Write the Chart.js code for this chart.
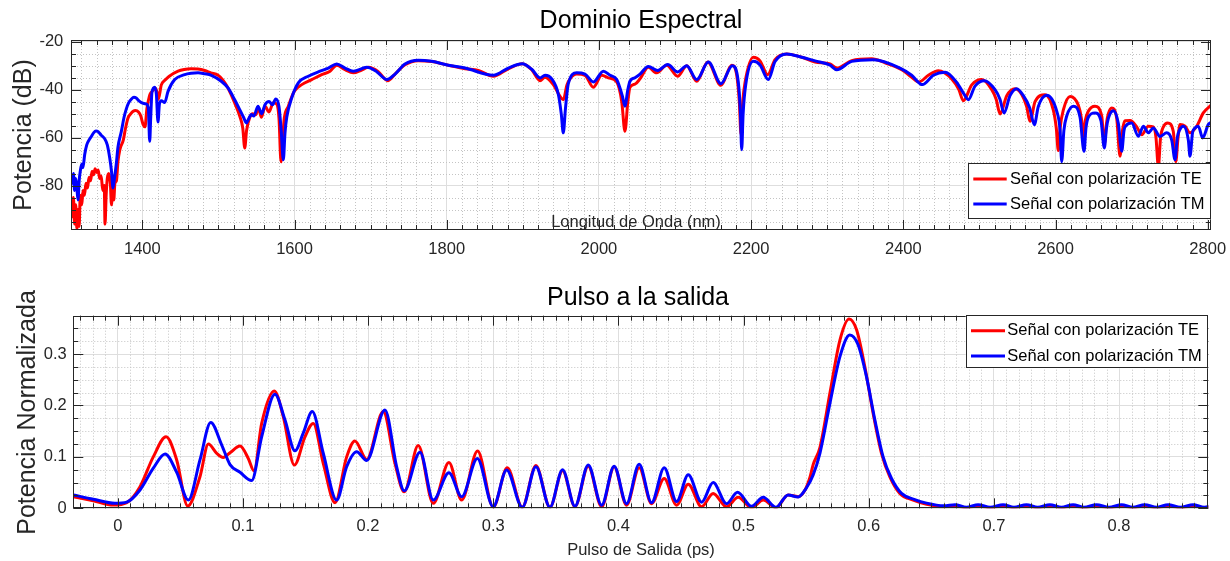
<!DOCTYPE html>
<html lang="es">
<head>
<meta charset="utf-8">
<title>Dominio Espectral / Pulso a la salida</title>
<script src="https://cdn.jsdelivr.net/npm/chart.js@4/dist/chart.umd.min.js"></script>
<style>
  html, body { margin: 0; padding: 0; background: #fff; }
  #wrap { position: relative; width: 1230px; height: 561px; overflow: hidden; }
  canvas { position: absolute; left: 0; }
  #spectrum { top: 0; }
  #pulse { top: 275px; }
</style>
</head>
<body>
<div id="wrap">
  <canvas id="spectrum" width="1230" height="275"></canvas>
  <canvas id="pulse" width="1230" height="286"></canvas>
</div>
<script>
// --- Dominio Espectral (nm, dB) ---
const wavelengthTE = [
  1306.3,1308,1309.5,1311,1312.5,1314,1315.5,1317,1318.5,1320.5,
  1322,1324,1326,1328,1330,1332,1334,1336,1338,1340,
  1342,1344,1346,1348,1350,1351,1352.5,1354,1356,1358,
  1359.5,1361,1362.5,1364,1366,1368,1370.5,1375,1378,1381,
  1385,1388,1391,1395,1398,1401,1403.5,1406,1408,1410,
  1412,1415,1418,1421,1425,1430,1435,1447,1455,1464,
  1473,1482,1490,1499.5,1506,1512.6,1521.4,1528,1532,1534.6,
  1537,1541,1545,1549,1552.4,1556.6,1561.2,1566.5,1572.1,1576.6,
  1579.6,1582.3,1584.5,1586.6,1591.9,1599.7,1609.5,1622.6,1635.7,1646.7,
  1655.5,1666.4,1677.3,1688.3,1697,1710.1,1722.5,1732.1,1745.2,1762.7,
  1780.3,1802.1,1824,1841.5,1861.2,1880.9,1899.3,1911.7,1922.6,1929.2,
  1940.1,1948.9,1953.2,1958,1962,1970.8,1981.7,1992.6,2003.7,2012.4,
  2023.4,2030,2034.2,2038,2040.8,2047.4,2054,2064.9,2075.9,2089.1,
  2103.5,2115.4,2128.5,2143,2160.4,2174.5,2181.1,2184.5,2186.7,2189,
  2192,2202.9,2211.7,2221.8,2231.4,2246.8,2266.5,2284,2303.7,2312.5,
  2332.2,2358.5,2376,2397.9,2411,2420.6,2432.9,2446,2463.6,2473,
  2478.8,2489.9,2503,2516.2,2522,2527.1,2535.9,2546.8,2555.6,2562,
  2566.5,2573.1,2586.2,2597.1,2601,2603.7,2606,2610.2,2619.1,2630,
  2634,2636.5,2639,2643.1,2651.9,2660.7,2664.1,2667,2669.4,2673.8,
  2680.4,2684.8,2688,2691.3,2697.9,2706.7,2713.3,2722,2728.5,2732,
  2735.1,2738,2741.7,2747.4,2754.8,2758,2761,2763.6,2770.2,2776.7,
  2785.5,2794.2,2805.2
];
const powerTE = [
  -87,-93,-85,-96,-88,-98,-90,-97,-84,-88,
  -82,-84,-79,-81,-76.5,-78,-74,-75.5,-73,-74.5,
  -73.5,-77,-76,-82,-80,-96,-84,-77,-75,-79,
  -88,-80,-86,-79,-78,-70,-65,-61,-56,-52,
  -50,-49,-48.7,-49.3,-51,-54.5,-55.5,-48,-44.5,-42,
  -41,-40,-39.5,-44,-38,-36,-34.5,-32.3,-31.6,-31.3,
  -31.4,-32,-33,-34,-36,-39.3,-45.5,-51,-56,-64.3,
  -57,-51.8,-50,-50.5,-47.6,-51.5,-46.9,-49.3,-45.5,-46,
  -52,-70.1,-60,-51.8,-46.9,-40.7,-37.9,-35.8,-33.75,-32.3,
  -29.8,-31.7,-33,-31.8,-30.7,-32.5,-36.25,-33.5,-29.6,-27.9,
  -28.3,-29.8,-31.25,-32,-34.4,-31.3,-29.2,-31.7,-36.25,-34.8,
  -37.9,-42.8,-44.2,-38,-35.5,-33.5,-34,-39,-34,-35.1,
  -36.8,-45,-57.3,-45,-39,-37.7,-35.5,-30.7,-33,-29.8,
  -34.4,-30,-36.5,-28.5,-38.2,-29.8,-34,-45,-58.7,-45,
  -37,-26.5,-28,-33.75,-27.5,-25.1,-26.5,-28.5,-29.3,-31,
  -27.9,-27.1,-28.8,-31.7,-34.8,-36.8,-34,-32.1,-35.5,-40,
  -44.6,-38,-35.8,-40,-44,-50.1,-42.5,-39.6,-42,-47,
  -53.2,-45,-42.1,-48.5,-56,-65.4,-56,-48.5,-42.8,-46.5,
  -52,-60.1,-53,-49,-46.9,-51,-62.9,-54,-50,-47.6,
  -52,-67.75,-57,-53,-52.9,-55.5,-58.75,-55.25,-55.5,-60,
  -72,-60,-55.5,-53.9,-57.5,-70,-60,-54.5,-55.25,-58,
  -55.25,-49.7,-46.25
];
const wavelengthTM = [
  1306.3,1308,1309.5,1311,1312.5,1314,1315.5,1317,1318.5,1320.5,
  1322,1324.3,1327,1330,1333,1336,1339,1342,1346,1350.6,
  1354,1357.2,1359.5,1361.5,1363,1365.8,1368,1372.4,1376,1379,
  1382,1385.5,1389,1392,1396,1401,1405.3,1408,1409.7,1411,
  1412.7,1416.3,1418.5,1420.6,1422.5,1425,1429.4,1433.8,1442.6,1455.7,
  1464,1473.2,1482,1490.7,1503.8,1512.6,1521.4,1528,1533,1536.7,
  1540,1543.2,1546.5,1552,1556.9,1561.2,1566.5,1571,1575.3,1579.6,
  1582.5,1585.3,1587.5,1589.8,1596.3,1605,1618.1,1633.5,1644.4,1655.5,
  1666.4,1677.3,1694.9,1708,1721.2,1732.1,1745.2,1762.7,1780.3,1802.1,
  1824,1861.2,1880.9,1899.3,1911.7,1922.6,1929.2,1938,1946.7,1950.5,
  1953.2,1956,1959.8,1970.8,1981.7,1992.6,2005.8,2014.6,2023.4,2030.7,
  2034.2,2038,2040.8,2047.4,2054,2064.9,2077.3,2090.4,2103.5,2115.4,
  2128.5,2143.8,2160.4,2175.3,2183.2,2186,2187.6,2189.5,2192.9,2202.9,
  2211.7,2222.6,2231.4,2246.8,2266.5,2284,2303.7,2312.5,2332.2,2360.6,
  2395.7,2411,2425,2439.4,2454.8,2470.2,2480,2485.4,2494.2,2506.4,
  2520.5,2527,2532.3,2540.2,2549,2557.7,2566,2572.2,2577.4,2588.4,
  2601.6,2606,2608.1,2611,2614.7,2623.4,2632.2,2637.5,2640,2643.1,
  2651.9,2659.8,2664.1,2667,2669.4,2675.9,2682.5,2687,2690,2692.6,
  2700.1,2708.8,2715.4,2722,2728.5,2737.3,2746.1,2752.7,2757,2760,
  2763.6,2768,2774.5,2776.7,2780,2783.3,2787.6,2793.4,2800.8,2806.9
];
const powerTM = [
  -76,-79,-75,-82,-77,-81,-86,-78,-74,-71,
  -72.5,-67,-63,-61,-59.5,-58,-57.2,-57.5,-59,-60.5,
  -63,-68.5,-74,-81,-78,-71,-64,-57.5,-51.5,-48,
  -45.5,-44,-43.2,-43.5,-44.8,-45.7,-46,-48,-61.5,-52,
  -41,-39,-42,-53.5,-46,-44.6,-45.4,-40.7,-35.8,-33.75,
  -33.2,-33,-33.4,-34,-36.5,-39.3,-44.2,-48.3,-51.5,-53.9,
  -52,-50.4,-51,-46.9,-50,-46.25,-44.9,-46.3,-43.9,-47,
  -57,-69.2,-58,-51.5,-43.5,-37.2,-34.4,-32.3,-31,-29.3,
  -31,-32.3,-30.7,-32.5,-35.8,-33.5,-29.3,-27.7,-28.2,-29.8,
  -31,-34,-31,-29.2,-31.5,-35.1,-34,-35.5,-42,-50,
  -58,-48,-37.5,-33,-33.5,-36.8,-32.3,-34,-35.8,-42.5,
  -46.9,-40,-36.5,-35,-33.5,-30.3,-32,-29.5,-32.6,-30,
  -35.8,-28.5,-37.5,-30,-37,-50,-65,-50,-38,-28.2,
  -29.7,-35.8,-28.3,-25.1,-26.5,-28,-29.8,-31.7,-28.2,-27.5,
  -31,-34,-37.9,-34,-32.75,-37,-42,-44.2,-38.5,-36.25,
  -40,-44,-49.7,-42.5,-39.6,-42.5,-47.5,-54.6,-47,-42.3,
  -49,-57,-70,-57,-51,-46.9,-51.5,-65.7,-56,-51.5,
  -49.7,-53,-64.3,-56,-52,-48.75,-54,-65.7,-57,-55,
  -53.9,-59.4,-55.25,-58,-56,-59.5,-58,-61,-69.2,-60,
  -56.5,-55.25,-61,-67.75,-58,-56,-55.25,-60.1,-54.5,-53.2
];
const spectrumXTicks = [1400, 1600, 1800, 2000, 2200, 2400, 2600, 2800];
const spectrumXLabels = ['1400', '1600', '1800', '2000', '2200', '2400', '2600', '2800'];
const spectrumYTicks = [-80, -60, -40, -20];
const spectrumYLabels = ['-80', '-60', '-40', '-20'];

// --- Pulso a la salida (ps, potencia normalizada) ---
const timeTE = [
  -0.0355,-0.0195,-0.0035,0.0072,0.0178,0.0284,0.0386,0.0471,0.0559,0.0657,
  0.0724,0.0791,0.0843,0.0897,0.0977,0.1043,0.1089,0.115,0.1251,0.1323,
  0.1411,0.1496,0.1562,0.1642,0.1736,0.1829,0.1895,0.1989,0.2121,0.2215,
  0.2289,0.2401,0.2521,0.2646,0.2748,0.2875,0.3,0.3112,0.3232,0.3341,
  0.3453,0.3554,0.3653,0.3759,0.3866,0.3966,0.4065,0.4166,0.4265,0.4366,
  0.4465,0.4558,0.4665,0.4757,0.4864,0.4957,0.5064,0.5157,0.5258,0.5356,
  0.5436,0.549,0.553,0.5556,0.561,0.569,0.577,0.5843,0.5903,0.5969,
  0.6035,0.6102,0.6168,0.6248,0.6355,0.6462,0.6594,0.669,0.678,0.6874,
  0.697,0.7074,0.716,0.726,0.735,0.7447,0.754,0.7633,0.772,0.782,
  0.792,0.802,0.811,0.8205,0.83,0.8392,0.849,0.8592,0.868,0.875
];
const pulseTE = [
  0.0226,0.0148,0.0064,0.011,0.042,0.1,0.139,0.094,0.0045,0.0615,
  0.125,0.107,0.099,0.108,0.121,0.097,0.073,0.165,0.228,0.178,
  0.084,0.139,0.165,0.0875,0.011,0.1,0.131,0.095,0.188,0.0875,
  0.032,0.122,0.0097,0.089,0.016,0.1115,0.002,0.079,0.002,0.083,
  0.002,0.073,0.003,0.082,0.003,0.081,0.006,0.079,0.009,0.058,
  0.006,0.047,0.003,0.029,0.003,0.0214,0.001,0.016,0.001,0.026,
  0.0226,0.035,0.06,0.085,0.118,0.224,0.327,0.368,0.347,0.275,
  0.185,0.107,0.0615,0.029,0.016,0.008,0.003,0.005,0.001,0.005,
  0.001,0.005,0.001,0.005,0.001,0.005,0.001,0.005,0.001,0.005,
  0.001,0.005,0.001,0.005,0.001,0.005,0.001,0.005,0.001,0.004
];
const timeTM = [
  -0.0355,-0.0195,-0.0022,0.0072,0.0178,0.0284,0.0378,0.0471,0.0564,0.0657,
  0.0743,0.0831,0.0897,0.0977,0.107,0.115,0.1256,0.1336,0.1416,0.1482,
  0.1554,0.1642,0.1749,0.1829,0.1909,0.1989,0.2135,0.2228,0.2289,0.2415,
  0.2521,0.2646,0.2748,0.2873,0.3,0.3107,0.3232,0.3341,0.3453,0.3554,
  0.3653,0.3759,0.3866,0.3966,0.4065,0.4166,0.4265,0.4366,0.4465,0.4558,
  0.4665,0.4757,0.4864,0.4952,0.5064,0.5157,0.5258,0.5356,0.5436,0.5503,
  0.5556,0.561,0.569,0.577,0.5849,0.5915,0.5982,0.6049,0.6115,0.6182,
  0.6262,0.6368,0.6462,0.66,0.669,0.678,0.6874,0.697,0.7074,0.716,
  0.726,0.735,0.7447,0.754,0.7633,0.772,0.782,0.792,0.802,0.811,
  0.8205,0.83,0.8392,0.849,0.8592,0.868,0.875
];
const pulseTM = [
  0.026,0.0175,0.0097,0.012,0.0356,0.078,0.1056,0.07,0.0161,0.094,
  0.1666,0.123,0.085,0.07,0.054,0.139,0.222,0.172,0.112,0.146,
  0.188,0.107,0.016,0.081,0.11,0.093,0.191,0.081,0.034,0.109,
  0.016,0.069,0.0226,0.097,0.003,0.0745,0.002,0.081,0.002,0.075,
  0.004,0.084,0.006,0.082,0.009,0.0855,0.011,0.079,0.013,0.065,
  0.012,0.05,0.009,0.031,0.004,0.0214,0.002,0.026,0.022,0.04,
  0.065,0.107,0.204,0.295,0.337,0.318,0.256,0.172,0.1,0.058,
  0.029,0.017,0.01,0.005,0.007,0.002,0.007,0.002,0.007,0.002,
  0.007,0.002,0.007,0.002,0.007,0.002,0.007,0.002,0.007,0.002,
  0.007,0.002,0.007,0.002,0.007,0.002,0.006
];
const pulseXTicks = [0, 0.1, 0.2, 0.3, 0.4, 0.5, 0.6, 0.7, 0.8];
const pulseXLabels = ['0', '0.1', '0.2', '0.3', '0.4', '0.5', '0.6', '0.7', '0.8'];
const pulseYTicks = [0, 0.1, 0.2, 0.3];
const pulseYLabels = ['0', '0.1', '0.2', '0.3'];

const seriesLabels = ['Señal con polarización TE', 'Señal con polarización TM'];

const FONT = '"Liberation Sans", Arial, Helvetica, sans-serif';
const INK = '#262626';

function zip(xs, ys) {
  return xs.map((x, i) => ({ x, y: ys[i] }));
}

// minor grid / tick positions between the major ticks of a scale
function minorValues(scale, step) {
  const majors = scale.ticks.map(t => t.value);
  const out = [];
  for (let k = Math.ceil(scale.min / step - 1e-9); k * step <= scale.max + 1e-9; k++) {
    const v = k * step;
    if (!majors.some(m => Math.abs(m - v) < step / 100)) out.push(v);
  }
  return out;
}

// matlab look: dotted minor grid, inner ticks on four sides, box, texts, legend
const matlabAxes = {
  id: 'matlabAxes',
  beforeDatasetsDraw(chart, args, o) {
    const { ctx, chartArea: a, scales: { x, y } } = chart;
    ctx.save();
    ctx.strokeStyle = '#c4c4c4';
    ctx.lineWidth = 1;
    ctx.setLineDash([1, 2]);
    ctx.beginPath();
    minorValues(x, o.xMinor).forEach(v => {
      const p = Math.round(x.getPixelForValue(v)) + 0.5;
      ctx.moveTo(p, a.top); ctx.lineTo(p, a.bottom);
    });
    minorValues(y, o.yMinor).forEach(v => {
      const p = Math.round(y.getPixelForValue(v)) + 0.5;
      ctx.moveTo(a.left, p); ctx.lineTo(a.right, p);
    });
    ctx.stroke();
    ctx.restore();
  },
  afterDatasetsDraw(chart, args, o) {
    const { ctx, chartArea: a, scales: { x, y } } = chart;
    const xTick = (v, len) => {
      const p = Math.round(x.getPixelForValue(v)) + 0.5;
      ctx.moveTo(p, a.bottom); ctx.lineTo(p, a.bottom - len);
      ctx.moveTo(p, a.top); ctx.lineTo(p, a.top + len);
    };
    const yTick = (v, len) => {
      const p = Math.round(y.getPixelForValue(v)) + 0.5;
      ctx.moveTo(a.left, p); ctx.lineTo(a.left + len, p);
      ctx.moveTo(a.right, p); ctx.lineTo(a.right - len, p);
    };
    ctx.save();
    ctx.strokeStyle = INK;
    ctx.lineWidth = 1;
    ctx.beginPath();
    x.ticks.forEach(t => xTick(t.value, 10));
    minorValues(x, o.xMinor).forEach(v => xTick(v, 5));
    y.ticks.forEach(t => yTick(t.value, 10));
    minorValues(y, o.yMinor).forEach(v => yTick(v, 5));
    ctx.stroke();
    const l = Math.round(a.left) + 0.5, t = Math.round(a.top) + 0.5;
    ctx.strokeRect(l, t, Math.round(a.right) - Math.round(a.left) - 1, Math.round(a.bottom) - Math.round(a.top) - 1);
    ctx.restore();
  },
  afterDraw(chart, args, o) {
    const ctx = chart.ctx;
    ctx.save();
    ctx.textBaseline = 'alphabetic';
    ctx.textAlign = 'center';
    ctx.fillStyle = '#000';
    ctx.font = `25px ${FONT}`;
    ctx.fillText(o.title.text, o.title.x, o.title.y);

    ctx.fillStyle = INK;
    ctx.font = `16.5px ${FONT}`;
    ctx.fillText(o.xLabel.text, o.xLabel.x, o.xLabel.y);

    ctx.save();
    ctx.translate(o.yLabel.x, o.yLabel.y);
    ctx.rotate(-Math.PI / 2);
    ctx.font = `25px ${FONT}`;
    ctx.fillText(o.yLabel.text, 0, 0);
    ctx.restore();

    const lg = o.legend;
    ctx.fillStyle = '#fff';
    ctx.fillRect(lg.left, lg.top, lg.width, lg.height);
    ctx.strokeStyle = INK;
    ctx.lineWidth = 1;
    ctx.strokeRect(Math.round(lg.left) + 0.5, Math.round(lg.top) + 0.5, Math.round(lg.width) - 1, Math.round(lg.height) - 1);
    ctx.textAlign = 'left';
    ctx.textBaseline = 'middle';
    ctx.font = `16.5px ${FONT}`;
    chart.data.datasets.forEach((ds, i) => {
      const ry = lg.top + lg.rows[i];
      ctx.strokeStyle = ds.borderColor;
      ctx.lineWidth = 3;
      ctx.beginPath();
      ctx.moveTo(lg.left + lg.sample[0], ry);
      ctx.lineTo(lg.left + lg.sample[1], ry);
      ctx.stroke();
      ctx.fillStyle = '#000';
      ctx.fillText(ds.label, lg.left + lg.textX, ry);
    });
    ctx.restore();
  }
};

function linearAxis(min, max, ticks, labels, size, padding) {
  return {
    type: 'linear',
    min: min,
    max: max,
    afterBuildTicks: s => { s.ticks = ticks.map(value => ({ value })); },
    afterFit: s => {
      if (s.isHorizontal()) s.height = size; else s.width = size;
      // keep the plot box fixed: no extra room for overhanging end labels
      s.paddingLeft = 0; s.paddingRight = 0; s.paddingTop = 0; s.paddingBottom = 0;
    },
    grid: { color: '#dedede', lineWidth: 1, drawTicks: false },
    border: { display: false },
    ticks: {
      autoSkip: false,
      maxRotation: 0,
      padding: padding,
      color: INK,
      font: { family: FONT, size: 16.5 },
      callback: (v, i) => labels[i]
    }
  };
}

function lineSet(label, data, color, order) {
  return {
    label: label,
    data: data,
    borderColor: color,
    backgroundColor: color,
    borderWidth: 3,
    pointRadius: 0,
    fill: false,
    cubicInterpolationMode: 'monotone',
    clip: 0,
    order: order
  };
}

new Chart(document.getElementById('spectrum'), {
  type: 'line',
  data: {
    datasets: [
      lineSet(seriesLabels[0], zip(wavelengthTE, powerTE), '#ff0000', 2),
      lineSet(seriesLabels[1], zip(wavelengthTM, powerTM), '#0000ff', 1)
    ]
  },
  options: {
    responsive: false,
    animation: false,
    devicePixelRatio: 1,
    layout: { padding: { left: 0, top: 40, right: 19, bottom: 0 } },
    scales: {
      x: linearAxis(1306.3, 2804.3, spectrumXTicks, spectrumXLabels, 45, 10),
      y: linearAxis(-98.5, -19.3, spectrumYTicks, spectrumYLabels, 71, 7.7)
    },
    plugins: {
      legend: { display: false },
      tooltip: { enabled: false },
      matlabAxes: {
        xMinor: 20,
        yMinor: 5,
        title: { text: 'Dominio Espectral', x: 641, y: 28 },
        xLabel: { text: 'Longitud de Onda (nm)', x: 636, y: 227 },
        yLabel: { text: 'Potencia (dB)', x: 31, y: 135 },
        legend: { left: 968.3, top: 163.3, width: 242.7, height: 56, rows: [15.7, 40.7], sample: [5, 38.4], textX: 41.7 }
      }
    }
  },
  plugins: [matlabAxes]
});

new Chart(document.getElementById('pulse'), {
  type: 'line',
  data: {
    datasets: [
      lineSet(seriesLabels[0], zip(timeTE, pulseTE), '#ff0000', 2),
      lineSet(seriesLabels[1], zip(timeTM, pulseTM), '#0000ff', 1)
    ]
  },
  options: {
    responsive: false,
    animation: false,
    devicePixelRatio: 1,
    layout: { padding: { left: 0, top: 40.7, right: 21.7, bottom: 0 } },
    scales: {
      x: linearAxis(-0.0355, 0.8713, pulseXTicks, pulseXLabels, 52.7, 8.5),
      y: linearAxis(0, 0.3745, pulseYTicks, pulseYLabels, 73.3, 6.6)
    },
    plugins: {
      legend: { display: false },
      tooltip: { enabled: false },
      matlabAxes: {
        xMinor: 0.01,
        yMinor: 0.025,
        title: { text: 'Pulso a la salida', x: 638, y: 30 },
        xLabel: { text: 'Pulso de Salida (ps)', x: 641, y: 280 },
        yLabel: { text: 'Potencia Normalizada', x: 35, y: 137.5 },
        legend: { left: 965.7, top: 40, width: 242, height: 53.3, rows: [15.7, 41], sample: [5.3, 39.3], textX: 41.6 }
      }
    }
  },
  plugins: [matlabAxes]
});
</script>
</body>
</html>
